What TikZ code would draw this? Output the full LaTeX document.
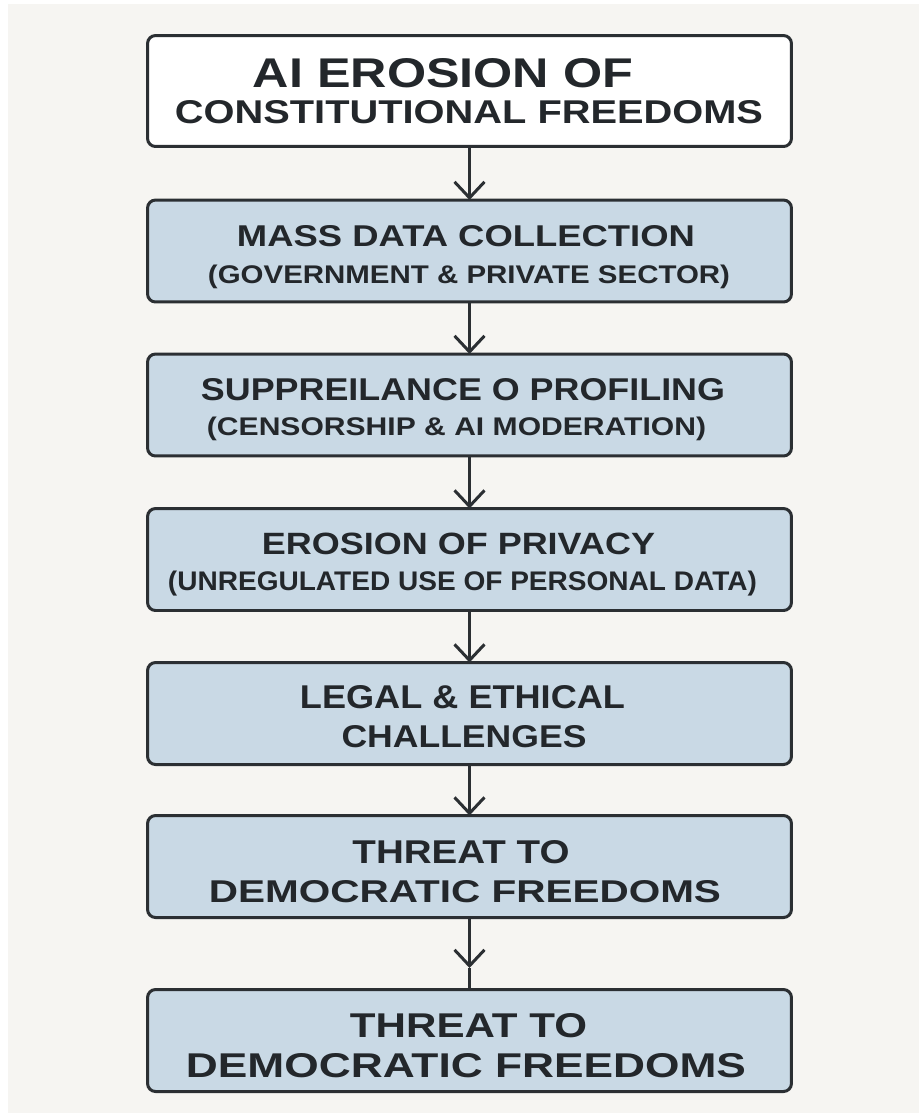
\documentclass[tikz,border=0pt]{standalone}
\usepackage{fontspec}
\setmainfont{Liberation Sans}
\usepackage{graphicx}
\usetikzlibrary{arrows.meta}

\definecolor{paper}{HTML}{F6F5F2}
\definecolor{ink}{HTML}{23272B}
\definecolor{edge}{HTML}{2B2F33}
\definecolor{stepfill}{HTML}{C9D9E5}

\newlength\pxu
\setlength\pxu{0.02cm}
\newcommand{\capline}[3]{\resizebox{#1\pxu}{#2\pxu}{#3}}

\begin{document}
\begin{tikzpicture}[x=0.02cm, y=-0.02cm,
  stepbox/.style={draw=edge, line width=0.06cm, rounded corners=0.16cm, fill=stepfill,
    minimum width=12.88cm, minimum height=2.04cm, inner sep=0pt, outer sep=0pt},
  txt/.style={anchor=base, inner sep=0pt, text=ink, font=\bfseries},
  arr/.style={draw=edge, line width=0.06cm, -{Straight Barb[length=0.32cm, width=0.6cm]}}]
\useasboundingbox (0,0) rectangle (919,1113);
\fill[white] (0,0) rectangle (919,1113);
\fill[paper] (8,4) rectangle (919,1113);
\node[stepbox, fill=white, minimum height=2.22cm] (B1) at (469.5,91) {};
\node[stepbox] (B2) at (469.5,251) {};
\node[stepbox] (B3) at (469.5,405) {};
\node[stepbox] (B4) at (469.5,559.5) {};
\node[stepbox] (B5) at (469.5,713.5) {};
\node[stepbox] (B6) at (469.5,866.5) {};
\node[stepbox] (B7) at (469.5,1040.5) {};
\coordinate (B67) at (469.5,968);
\node[txt] (B1a) at (443,87) {\capline{380}{29}{AI EROSION OF}};
\node[txt] (B1b) at (469,123) {\capline{588}{23}{CONSTITUTIONAL FREEDOMS}};
\node[txt] (B2a) at (466,246) {\capline{458}{21}{MASS DATA COLLECTION}};
\node[txt] (B2b) at (469,283) {\capline{522}{18.5}{(GOVERNMENT \& PRIVATE SECTOR)}};
\node[txt] (B3a) at (463,400) {\capline{524}{22}{SUPPREILANCE O PROFILING}};
\node[txt] (B3b) at (456.5,435) {\capline{499}{18.5}{(CENSORSHIP \& AI MODERATION)}};
\node[txt] (B4a) at (458.5,554) {\capline{393}{21.5}{EROSION OF PRIVACY}};
\node[txt] (B4b) at (462.5,590) {\capline{589}{19.5}{(UNREGULATED USE OF PERSONAL DATA)}};
\node[txt] (B5a) at (462.5,708) {\capline{325}{23}{LEGAL \& ETHICAL}};
\node[txt] (B5b) at (464,747) {\capline{245}{22}{CHALLENGES}};
\node[txt] (B6a) at (461,863) {\capline{217}{23}{THREAT TO}};
\node[txt] (B6b) at (465,902) {\capline{512}{22}{DEMOCRATIC FREEDOMS}};
\node[txt] (B7a) at (468.5,1037) {\capline{237}{24}{THREAT TO}};
\node[txt] (B7b) at (466,1077) {\capline{560}{24}{DEMOCRATIC FREEDOMS}};
\draw[arr] (B1) -- (B2);
\draw[arr] (B2) -- (B3);
\draw[arr] (B3) -- (B4);
\draw[arr] (B4) -- (B5);
\draw[arr] (B5) -- (B6);
\draw[arr] (B6) -- (B67);
\draw[draw=edge, line width=0.06cm] (B67) -- (B7);
\end{tikzpicture}
\end{document}
